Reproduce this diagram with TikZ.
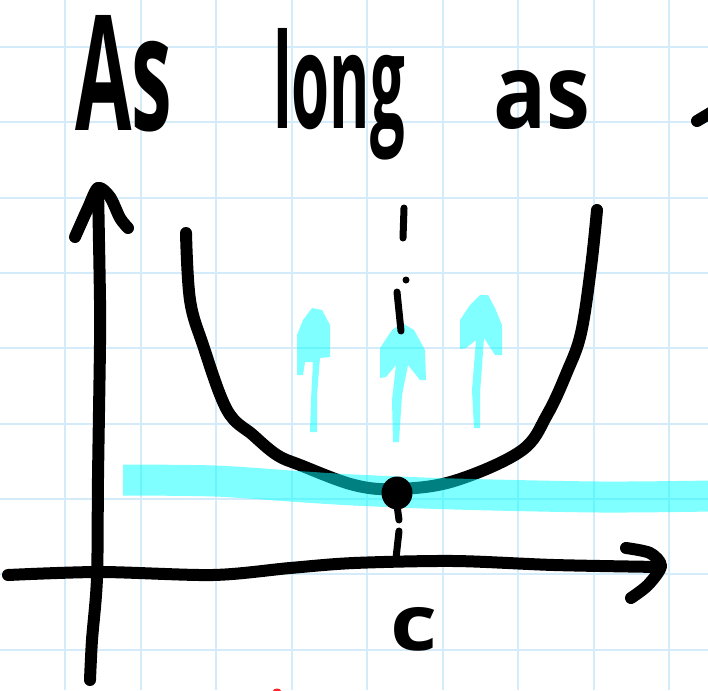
\documentclass[tikz,border=0pt]{standalone}
\usepackage{fontspec}
\setmainfont{Open Sans}
\usepackage{graphicx}
\definecolor{gridblue}{RGB}{212,236,250}
\definecolor{hl}{RGB}{0,255,255}
\tikzset{
  ink/.style={draw=black, line width=12pt, line cap=round, line join=round},
  thinink/.style={draw=black, line width=7pt, line cap=round},
  marker/.style={fill=hl, fill opacity=0.5},
  band/.style={draw=hl, draw opacity=0.5, line width=31pt, line cap=butt},
  gridline/.style={draw=gridblue, line width=2pt},
  hand/.style={inner sep=0pt, outer sep=0pt, anchor=base west, font=\bfseries}
}
\begin{document}
\begin{tikzpicture}[x=1pt,y=-1pt]
\useasboundingbox (0,0) rectangle (708,690);
\fill[white] (0,0) rectangle (708,690);
% grid
\foreach \gx in {65,140.5,216,291.5,367,442.5,518,593.5,669}
  \draw[gridline] (\gx,0) -- (\gx,690);
\foreach \gy in {47,122,198,273,348,424,499,574,650}
  \draw[gridline] (0,\gy) -- (708,\gy);
% handwriting title
\node[hand] (wAs) at (75,130) {\resizebox{97pt}{115pt}{As}};
\node[hand] (wlong) at (273,128) {\resizebox{132pt}{100pt}{long}};
\node[hand] (was) at (493,128) {\resizebox{97pt}{58pt}{as}};
\draw[ink] (697,121) -- (712,112);
% axes
\draw[ink] plot[smooth] coordinates {(98,188) (100,300) (100,345) (98,478) (97,578) (92,640) (90,680)};
\draw[ink] plot[smooth] coordinates {(75,237) (88,208) (98,188) (110,197) (120,218) (128,228)};
\draw[ink] plot[smooth] coordinates {(8,575) (100,572) (213,575) (290,568) (354,563) (454,561) (554,565) (660,567)};
\draw[ink] plot[smooth] coordinates {(626,548) (650,553) (661,566) (648,585) (631,598)};
% curve
\draw[ink] plot[smooth, tension=0.6] coordinates {(186,233) (190,300) (203,345) (227,410) (253,435) (277,455) (300,465) (354,485) (397,489) (454,481) (521,451) (547,415) (567,372) (581,333) (591,267) (597,210)};
% highlighter band
\draw[band] plot[smooth] coordinates {(123,480) (215,481) (290,486) (354,490) (454,494) (600,497) (712,496)};
% cyan arrows
\fill[marker] (297,375) -- (297,335) -- (303,320) -- (312,308) -- (322,310) -- (330,325) -- (330,357) -- (320,358) -- (317,395) -- (317,432) -- (310,432) -- (311,400) -- (313,362) -- (305,362) -- (303,375) -- cycle;
\fill[marker] (380,378) -- (380,348) -- (392,330) -- (402,323) -- (414,330) -- (425,350) -- (426,380) -- (420,380) -- (408,365) -- (402,395) -- (399,442) -- (393,442) -- (392,400) -- (396,365) -- (386,377) -- cycle;
\fill[marker] (460,349) -- (460,320) -- (470,305) -- (480,295) -- (488,295) -- (495,308) -- (502,325) -- (502,355) -- (495,355) -- (484,338) -- (480,393) -- (480,428) -- (474,428) -- (472,390) -- (476,340) -- (466,348) -- cycle;
% dashed guide at c
\draw[thinink] (404,208) -- (403,238);
\fill[black] (406,280) circle (3.5);
\draw[thinink] (397,292) -- (401,331);
\draw[thinink] (397,505) -- (399,520);
\draw[thinink] (399,531) -- (396,558);
% minimum point
\fill[black] (397,493) ellipse (15.5 and 16.5);
% label c
\node[hand] (lc) at (390,650) {\resizebox{47pt}{43pt}{c}};
% small red mark
\fill[red!85] (277,691) ellipse (4 and 2.5);
\end{tikzpicture}
\end{document}
